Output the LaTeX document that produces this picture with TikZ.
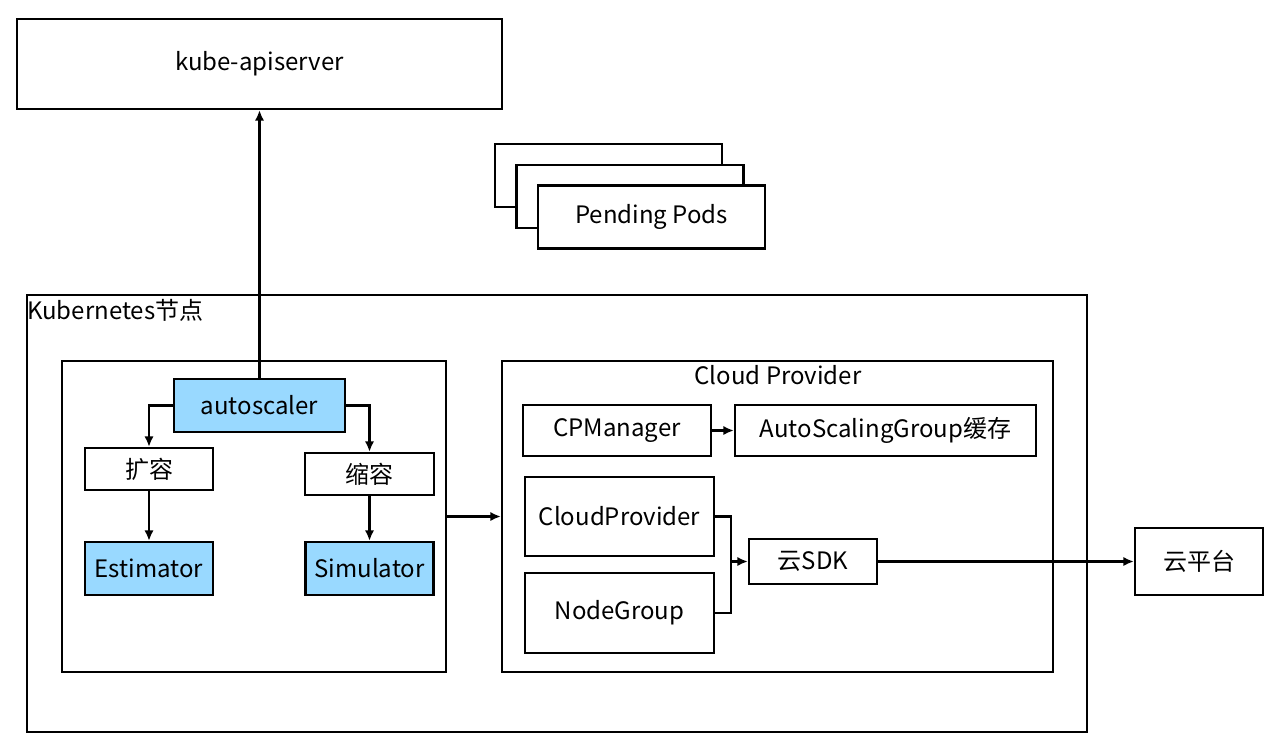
\documentclass[tikz,border=0pt]{standalone}
\usepackage{fontspec}
\setmainfont{Noto Sans CJK SC}
\usepackage{tikz}
\usetikzlibrary{arrows.meta}
\definecolor{boxblue}{RGB}{153,217,255}
\tikzset{
  box/.style={draw, line width=1.6pt, inner sep=0pt, font=\fontsize{18}{21}\selectfont},
  bluebox/.style={box, fill=boxblue},
  link/.style={line width=1.7pt},
  arrowlink/.style={link, -{Latex[length=8pt,width=7pt]}}
}

\begin{document}
\begin{tikzpicture}[x=0.75pt,y=0.75pt,yscale=-1,xscale=1]
\useasboundingbox (0,0) rectangle (1271,746);

%Top boxes
\node[box, minimum width=363.75pt, minimum height=67.5pt] (kube) at (259.5,64) {kube-apiserver};
\node[box, minimum width=170.25pt, minimum height=47.25pt] (podc) at (608.5,175.5) {};
\node[box, fill=white, minimum width=170.25pt, minimum height=47.25pt] (podb) at (630,196.5) {};
\node[box, fill=white, minimum width=170.25pt, minimum height=47.25pt] (poda) at (651.5,217) {Pending Pods};

%Kubernetes node
\node[box, minimum width=795pt, minimum height=327.75pt] (k8s) at (557,513.5) {};
\node[anchor=west, inner sep=0pt, font=\fontsize{18}{21}\selectfont] (k8slabel) at (27,310) {Kubernetes节点};

%autoscaler part
\node[box, minimum width=288pt, minimum height=233.25pt] (left) at (254,516.5) {};
\node[bluebox, minimum width=128.25pt, minimum height=39.75pt] (auto) at (259.5,405.5) {autoscaler};
\node[box, minimum width=96pt, minimum height=31.5pt] (up) at (149,469) {扩容};
\node[box, minimum width=96.75pt, minimum height=31.5pt] (down) at (369.5,474) {缩容};
\node[bluebox, minimum width=96pt, minimum height=39.75pt] (est) at (149,568.5) {Estimator};
\node[bluebox, minimum width=96pt, minimum height=39.75pt] (sim) at (369.5,568.5) {Simulator};

%Cloud Provider part
\node[box, minimum width=413.25pt, minimum height=233.25pt] (cloud) at (777.5,516.5) {};
\node[font=\fontsize{18}{21}\selectfont, inner sep=0pt] (cloudlabel) at (778,375) {Cloud Provider};
\node[box, minimum width=141pt, minimum height=38.25pt] (cpm) at (617,430.5) {CPManager};
\node[box, minimum width=225.75pt, minimum height=38.25pt] (asg) at (885.5,430.5) {AutoScalingGroup缓存};
\node[box, minimum width=141.75pt, minimum height=59.25pt] (cp) at (619.5,516.5) {CloudProvider};
\node[box, minimum width=141.75pt, minimum height=60pt] (ng) at (619.5,613) {NodeGroup};
\node[box, minimum width=96pt, minimum height=33.75pt] (sdk) at (813,561.5) {云SDK};
\node[box, minimum width=96pt, minimum height=50.25pt] (plat) at (1199,561.5) {云平台};
\coordinate (join) at (731,561.5);

%Connectors
\draw[arrowlink] (auto.north) -- (kube.south);
\draw[arrowlink] (auto.west) -| (up.north);
\draw[arrowlink] (auto.east) -| (down.north);
\draw[arrowlink] (up.south) -- (est.north);
\draw[arrowlink] (down.south) -- (sim.north);
\draw[arrowlink] (left.east) -- (cloud.west);
\draw[arrowlink] (cpm.east) -- (asg.west);
\draw[link] (cp.east) -| (join);
\draw[link] (ng.east) -| (join);
\draw[arrowlink] (join) -- (sdk.west);
\draw[arrowlink] (sdk.east) -- (plat.west);

\end{tikzpicture}
\end{document}
